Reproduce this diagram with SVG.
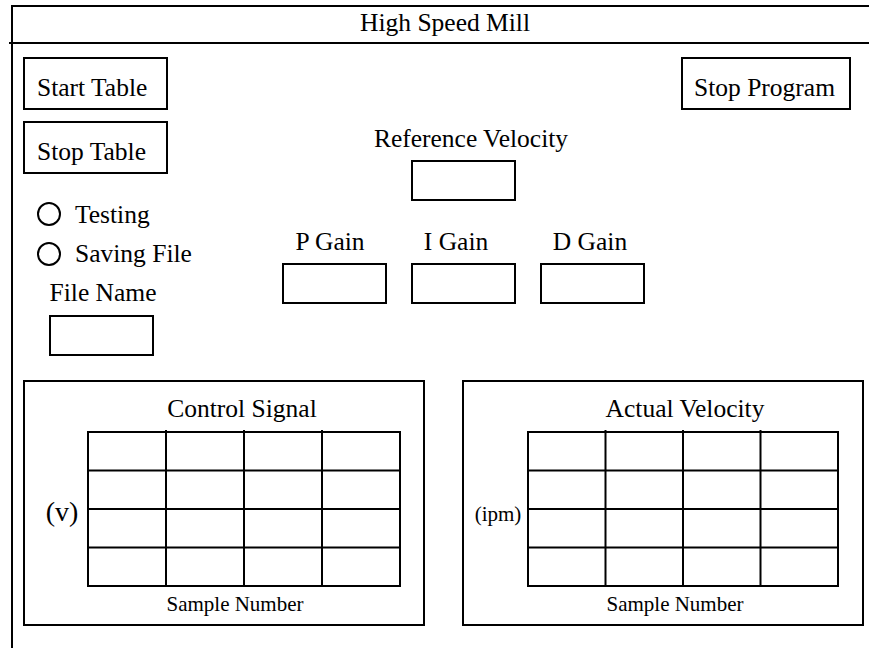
<svg xmlns="http://www.w3.org/2000/svg" width="869" height="648" viewBox="0 0 869 648">
<style>
.ln{stroke:#000;stroke-width:2;fill:none}
.box{stroke:#000;stroke-width:2;fill:#fff}
.grid{stroke:#000;stroke-width:2;fill:none}
.t{font-family:'Liberation Serif','Times New Roman',Times,'DejaVu Serif',serif;font-size:25.5px;fill:#000}
.s{font-family:'Liberation Serif','Times New Roman',Times,'DejaVu Serif',serif;font-size:21px;fill:#000}
.c{text-anchor:middle}
</style>
<rect width="869" height="648" fill="#fff"/>
<g id="frame">
<line class="ln" x1="11" y1="6" x2="869" y2="6"/>
<line class="ln" x1="12" y1="5" x2="12" y2="648"/>
<line class="ln" x1="9" y1="43" x2="869" y2="43"/>
<text class="t c" x="445" y="31">High Speed Mill</text>
</g>
<g id="start-table">
<rect class="box" x="24" y="58" width="143" height="51"/>
<text class="t" x="37" y="96">Start Table</text>
</g>
<g id="stop-table">
<rect class="box" x="24" y="122" width="143" height="51"/>
<text class="t" x="37" y="160">Stop Table</text>
</g>
<g id="stop-program">
<rect class="box" x="682" y="58" width="168" height="51"/>
<text class="t" x="694" y="96">Stop Program</text>
</g>
<g id="reference-velocity">
<text class="t c" x="471" y="147">Reference Velocity</text>
<rect class="box" x="412" y="161" width="103" height="39"/>
</g>
<g id="testing">
<circle class="ln" cx="49" cy="214" r="11"/>
<text class="t" x="75" y="223">Testing</text>
</g>
<g id="saving-file">
<circle class="ln" cx="49" cy="254" r="11"/>
<text class="t" x="75" y="262">Saving File</text>
</g>
<g id="p-gain">
<text class="t c" x="330" y="250">P Gain</text>
<rect class="box" x="283" y="264" width="103" height="39"/>
</g>
<g id="i-gain">
<text class="t c" x="456" y="250">I Gain</text>
<rect class="box" x="412" y="264" width="103" height="39"/>
</g>
<g id="d-gain">
<text class="t c" x="590" y="250">D Gain</text>
<rect class="box" x="541" y="264" width="103" height="39"/>
</g>
<g id="file-name">
<text class="t c" x="103" y="301">File Name</text>
<rect class="box" x="50" y="316" width="103" height="39"/>
</g>
<g id="control-signal">
<rect class="box" x="24" y="381" width="400" height="244"/>
<text class="t c" x="242" y="417">Control Signal</text>
<rect class="grid" x="88" y="432" width="312" height="154"/>
<path class="grid" d="M166 430V586M244 430V586M322 430V586M88 470.5H401M88 509H401M88 547.5H401"/>
<text class="t c" x="62" y="521" style="font-size:28px">(v)</text>
<text class="s c" x="235" y="611">Sample Number</text>
</g>
<g id="actual-velocity">
<rect class="box" x="463" y="381" width="400" height="244"/>
<text class="t c" x="685" y="417">Actual Velocity</text>
<rect class="grid" x="528" y="432" width="310" height="154"/>
<path class="grid" d="M605.5 430V586M683 430V586M760.5 430V586M528 470.5H839M528 509H839M528 547.5H839"/>
<text class="s c" x="498" y="521">(ipm)</text>
<text class="s c" x="675" y="611">Sample Number</text>
</g>
<g id="connectors"/>
</svg>
